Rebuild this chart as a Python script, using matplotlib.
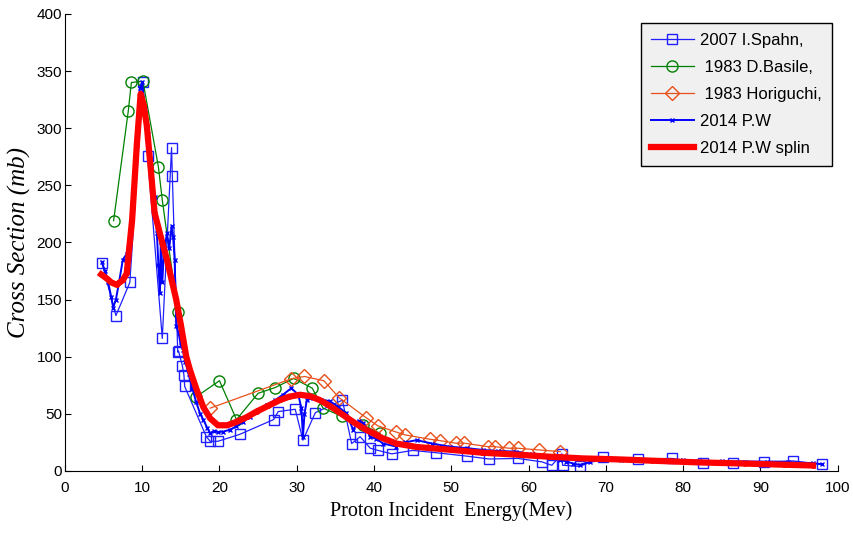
import matplotlib
matplotlib.use("Agg")
import matplotlib.pyplot as plt

# 2007 I.Spahn (squares)
spahn_e = [4.8, 6.6, 8.4, 10.1, 10.7, 12.6, 13.8, 13.9, 14.6, 14.7, 15.2, 15.4, 15.5,
           18.3, 18.8, 19.8, 22.6, 27.0, 27.6, 29.8, 30.8, 32.4, 35.9, 37.1, 38.2,
           39.5, 40.5, 42.3, 45.0, 48.0, 52.0, 54.9, 58.6, 61.7, 63.0, 64.3, 64.4,
           66.6, 69.6, 74.1, 78.5, 82.5, 86.4, 90.4, 94.2, 97.9]
spahn_cs = [182, 136, 165, 340, 276, 116, 283, 258, 104, 105, 92, 84, 74,
            30, 26, 26, 32, 45, 52, 54, 27, 51, 62, 24, 30,
            20, 18, 15, 18, 16, 13, 10.5, 11, 8, 5, 15, 5,
            4, 12, 10.5, 11, 7.3, 7.3, 8.2, 8.8, 6]

# 1983 D.Basile (circles)
basile_e = [6.3, 8.2, 8.6, 10.1, 12.1, 12.6, 14.6, 17.0, 20.0, 22.2, 25.0, 27.2,
            29.6, 32.0, 33.4, 35.8, 38.6, 40.8]
basile_cs = [219, 315, 340, 341, 266, 237, 139, 65, 79, 45, 68, 73,
             81, 72.5, 55, 48, 40, 33]

# 1983 Horiguchi (diamonds)
hori_e = [18.8, 29.3, 31.0, 33.5, 35.5, 39.0, 40.5, 42.9, 44.0, 47.2, 48.5, 50.6,
          51.7, 54.7, 55.6, 57.5, 58.6, 61.4, 64.1]
hori_cs = [55, 80.7, 82.7, 79, 64, 46.5, 39.5, 34, 31.6, 27.8, 26.6, 24.3,
           24.3, 21.3, 21.3, 19.9, 19.9, 18.4, 17]

# 2014 P.W (x markers)
pw_e = [4.75, 5.2, 5.6, 6.0, 6.25, 6.6, 7.0, 7.5, 8.0, 8.5, 9.0, 9.4, 9.7, 10.0,
        10.3, 10.7, 11.2, 11.6, 11.9, 12.1, 12.3, 12.4, 12.6, 12.8, 13.2, 13.5,
        13.8, 14.0, 14.2, 14.4, 14.7, 15.0, 15.3, 15.6, 16.0, 16.5, 17.0, 17.5,
        17.9, 18.4, 18.8, 19.3, 19.8, 20.5, 21.3, 22.2, 23.0, 23.9, 25.0, 26.1,
        27.2, 28.2, 29.3, 30.2, 30.6, 30.8, 31.0, 31.3, 32.1, 33.2, 34.3, 35.4,
        36.4, 37.3, 38.0, 38.6, 39.5, 40.3, 41.2, 42.9, 44.0, 45.5, 47.5, 49.8,
        52.0, 54.1, 56.0, 58.4, 60.5, 62.7, 64.0, 64.9, 65.8, 66.6, 68.0, 69.6,
        72.0, 74.1, 77.0, 80.0, 82.1, 85.0, 88.0, 90.8, 93.5, 96.8, 97.9]
pw_cs = [183, 175, 165, 152, 143, 150, 165, 185, 190, 215, 260, 300, 335, 340,
         317, 295, 273, 240, 208, 180, 156, 200, 165, 190, 208, 195,
         214, 205, 185, 127, 121, 110, 106, 95, 85, 72, 60, 50,
         45, 38, 33, 35, 34, 34.5, 36, 39, 43, 47.6, 53, 58,
         62, 66.7, 72.5, 66.7, 55, 30, 50, 62, 63.7, 62.5, 61, 56,
         50.6, 36, 44, 41.7, 30, 28, 24, 21.3, 25, 27, 24, 21.3,
         20, 18.4, 17.5, 17, 14.5, 12.5, 10, 8.2, 6.5, 5.3, 8, 10,
         10, 10.5, 10, 9.5, 8.8, 8.5, 8.3, 8.2, 7.8, 6.7, 6]

# 2014 P.W spline
spl_e = [4.7, 5.5, 6.0, 6.7, 7.5, 8.0, 8.7, 9.3, 9.8, 10.2, 10.6, 11.1, 11.6,
         12.4, 13.2, 14.4, 15.0, 15.7, 16.2, 17.0, 17.9, 18.8, 19.8, 21.0, 22.2,
         23.5, 24.8, 26.3, 27.8, 29.0, 30.4, 31.7, 33.0, 34.5, 36.0, 37.5, 39.0,
         41.0, 42.9, 45.5, 50.0, 54.0, 58.0, 62.7, 67.0, 71.4, 76.0, 82.1, 88.0,
         93.0, 96.8]
spl_cs = [172, 168, 165, 163, 167, 173, 220, 285, 330, 320, 302, 265, 226,
          205, 185, 150, 128, 100, 88, 72, 56, 46, 40, 40, 43,
          47, 52, 57, 62, 65, 66.7, 65.5, 62, 56, 49, 42, 36,
          29, 24, 21, 18.5, 16, 14.5, 12.5, 11, 10.2, 9, 7.5, 6.5,
          5.5, 4.8]

fig = plt.figure(figsize=(8.54, 5.34), dpi=100)
ax = fig.add_axes([0.076, 0.118, 0.905, 0.856])

ax.plot(spahn_e, spahn_cs, color='#1f1fff', marker='s', markersize=7,
        markerfacecolor='none', linewidth=0.9, label='2007 I.Spahn,')
ax.plot(basile_e, basile_cs, color='#008000', marker='o', markersize=8,
        markerfacecolor='none', linewidth=0.9, label=' 1983 D.Basile,')
ax.plot(hori_e, hori_cs, color='#e8501a', marker='D', markersize=7,
        markerfacecolor='none', linewidth=0.9, label=' 1983 Horiguchi,')
ax.plot(pw_e, pw_cs, color='#0000ff', marker='x', markersize=3.5,
        markeredgewidth=1.0, linewidth=1.4, label='2014 P.W')
ax.plot(spl_e, spl_cs, color='#ff0000', marker='.', markersize=5,
        linewidth=4.5, label='2014 P.W splin')

ax.set_xlim(0, 100)
ax.set_ylim(0, 400)
ax.set_xticks(range(0, 101, 10))
ax.set_yticks(range(0, 401, 50))
ax.tick_params(direction='in', labelsize=11, length=4)
ax.tick_params(axis='x', pad=7)
ax.tick_params(axis='y', pad=2)
for lab in ax.get_xticklabels() + ax.get_yticklabels():
    lab.set_family('Liberation Sans')
ax.spines['top'].set_visible(False)
ax.spines['right'].set_visible(False)

ax.set_xlabel('Proton Incident  Energy(Mev)', family='Liberation Serif', fontsize=14.5, labelpad=5)
ax.set_ylabel('Cross Section (mb)', family='Liberation Serif', style='italic', fontsize=18, labelpad=4)

leg = ax.legend(loc='upper right', bbox_to_anchor=(0.992, 0.981), prop={'family': 'Liberation Sans', 'size': 12},
                fancybox=False, framealpha=1, edgecolor='black', handlelength=2.6,
                handletextpad=0.35, labelspacing=0.72, borderpad=0.6, borderaxespad=0)
leg.get_frame().set_facecolor('#f0f0f0')
leg.get_frame().set_linewidth(1.0)

fig.savefig('out.png', dpi=100)
